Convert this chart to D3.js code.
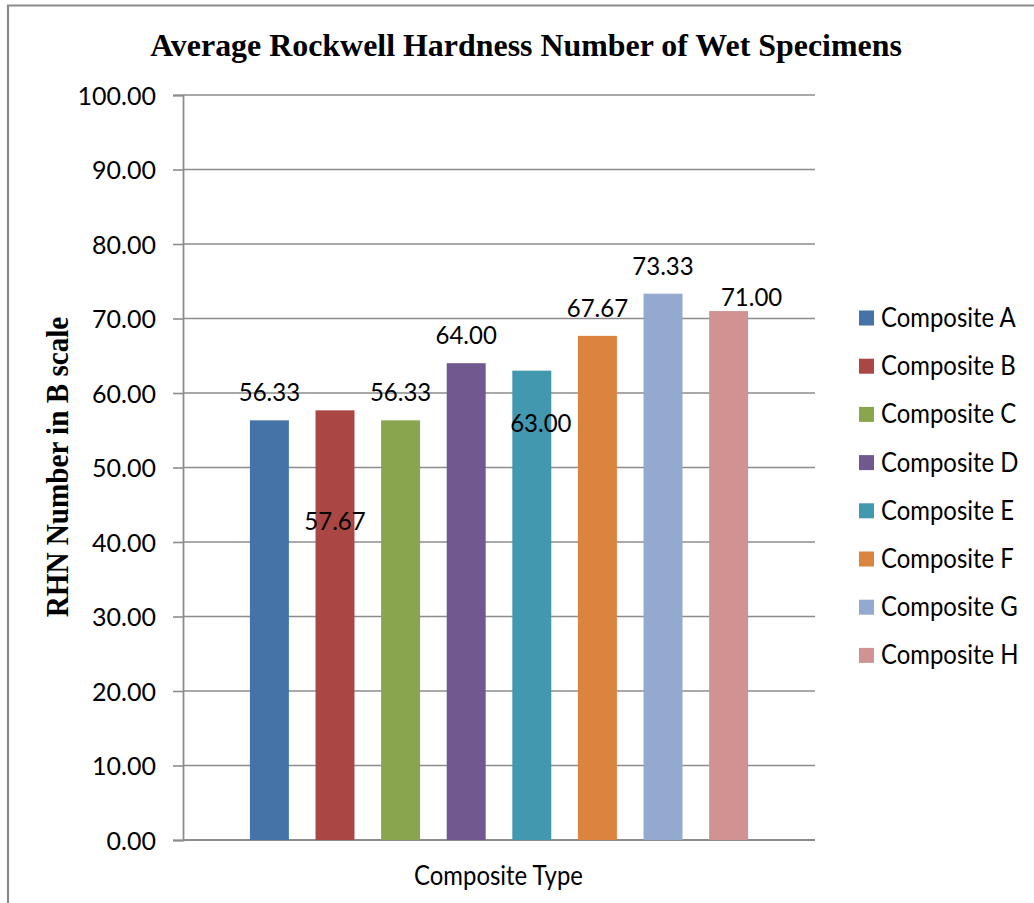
<!DOCTYPE html>
<html>
<head>
<meta charset="utf-8">
<script src="https://cdn.jsdelivr.net/npm/d3@7/dist/d3.min.js"></script>
<style>
  body { margin: 0; background: #fff; }
  .sans { font-family: Lato, "Open Sans", "Liberation Sans", sans-serif; fill: #000; }
  .serif { font-family: "Liberation Serif", "DejaVu Serif", serif; font-weight: bold; fill: #000; }
</style>
</head>
<body>
<svg id="chart" width="1034" height="903"></svg>
<script>
// Average Rockwell hardness (B scale) of the wet specimens
const categories = ["Composite A", "Composite B", "Composite C", "Composite D",
                    "Composite E", "Composite F", "Composite G", "Composite H"];
const values = [56.33, 57.67, 56.33, 64.00, 63.00, 67.67, 73.33, 71.00];
const colors = ["#4572A7", "#AA4643", "#89A54E", "#71588F",
                "#4198AF", "#DB843D", "#93A9CF", "#D19392"];
const yTicks = [0, 10, 20, 30, 40, 50, 60, 70, 80, 90, 100];
const chartTitle = "Average Rockwell Hardness Number of Wet Specimens";
const yTitle = "RHN Number  in B scale";
const xTitle = "Composite Type";

// hand-placed value labels: [dx, dy] shift from the default spot above each bar
const labelNudge = [[0, 0], [0, 139], [0, 0], [0, 0], [9, 80], [0, 0], [0, 0], [23, 14]];

const svg = d3.select("#chart");
const plot = { left: 183, right: 815, top: 95, bottom: 840 };

const y = d3.scaleLinear().domain([0, 100]).range([plot.bottom, plot.top]);
const x = d3.scaleBand().domain(categories)
  .range([plot.left, plot.right])
  .paddingInner(0.406).paddingOuter(1.02);

// text drawn with a slight horizontal squeeze around its anchor
function label(parent, px, py, str, cls, size, sx, anchor, rotate) {
  const g = parent.append("g")
    .attr("transform", `translate(${px},${py})` + (rotate ? ` rotate(${rotate})` : ""));
  return g.append("text")
    .attr("class", cls)
    .attr("transform", `scale(${sx},1)`)
    .attr("text-anchor", anchor || "middle")
    .style("font-size", size + "px")
    .text(str);
}

// outer frame (left and top edges)
svg.append("path")
  .attr("d", "M8,903 L8,5.5 L1034,5.5")
  .attr("fill", "none").attr("stroke", "#8a8a8a").attr("stroke-width", 2.2);

// gridlines
svg.append("g")
  .selectAll("line").data(yTicks.filter(t => t > 0)).join("line")
  .attr("x1", plot.left).attr("x2", plot.right)
  .attr("y1", d => y(d)).attr("y2", d => y(d))
  .attr("stroke", "#8c8c8c").attr("stroke-width", 1.6);

// y axis
const yAxis = d3.axisLeft(y).tickValues(yTicks).tickSize(10).tickPadding(17)
  .tickFormat(d3.format(".2f"));
const yg = svg.append("g").attr("transform", `translate(${plot.left},0)`).call(yAxis);
yg.select(".domain").attr("stroke", "#8c8c8c").attr("stroke-width", 1.8);
yg.selectAll(".tick line").attr("stroke", "#8c8c8c").attr("stroke-width", 1.6);
yg.selectAll(".tick text")
  .attr("class", "sans")
  .style("font-size", "25px")
  .attr("dy", "0.36em");

// x axis baseline
svg.append("line")
  .attr("x1", plot.left).attr("x2", plot.right)
  .attr("y1", y(0)).attr("y2", y(0))
  .attr("stroke", "#8c8c8c").attr("stroke-width", 1.8);

// bars
svg.append("g")
  .selectAll("rect").data(values).join("rect")
  .attr("x", (d, i) => x(categories[i]))
  .attr("width", x.bandwidth())
  .attr("y", d => y(d))
  .attr("height", d => y(0) - y(d))
  .attr("fill", (d, i) => colors[i]);

// value labels
const labels = svg.append("g");
values.forEach((v, i) => {
  const cx = x(categories[i]) + x.bandwidth() / 2 + labelNudge[i][0];
  const cy = y(v) - 19 + labelNudge[i][1];
  label(labels, cx, cy, d3.format(".2f")(v), "sans", 25, 0.96);
});

// titles
label(svg, 526, 55.5, chartTitle, "serif", 31, 1.03);
label(svg, 68, 467, yTitle, "serif", 31, 0.94, "middle", -90);
label(svg, 498.5, 885, xTitle, "sans", 26, 0.92);

// legend
const legend = svg.append("g");
categories.forEach((c, i) => {
  const ly = 318 + i * 48.2;
  legend.append("rect")
    .attr("x", 859).attr("y", ly - 7.5)
    .attr("width", 15).attr("height", 15)
    .attr("fill", colors[i]);
  label(legend, 881, ly + 9, c, "sans", 26, 0.92, "start");
});
</script>
</body>
</html>
